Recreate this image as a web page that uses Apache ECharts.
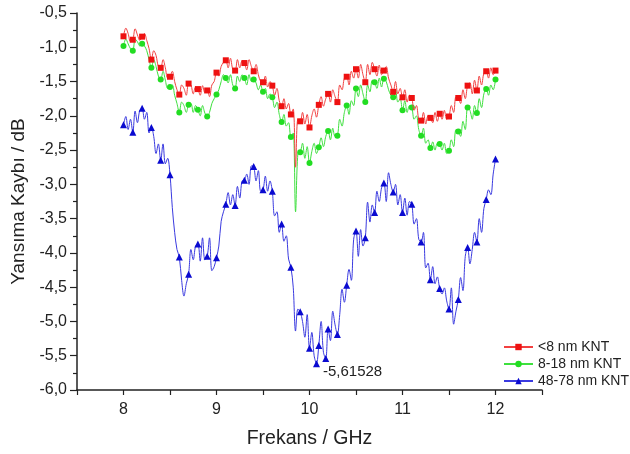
<!DOCTYPE html>
<html>
<head>
<meta charset="utf-8">
<script src="https://cdn.jsdelivr.net/npm/echarts@6/dist/echarts.min.js"></script>
<style>html,body{margin:0;padding:0;background:#fff;}#c{width:630px;height:454px;}</style>
</head>
<body>
<div id="c"></div>
<script>
// Frequency grid: 8.0 to 12.0 GHz, 0.025 GHz apart (161 samples); symbols every 0.1 GHz
const freqStart = 8.0;
const freqStep = 0.025;
const markerEvery = 4;

const seriesNames = ['<8 nm KNT', '8-18 nm KNT', '48-78 nm KNT'];

const red = [
  -0.84, -0.72, -0.80, -0.92,
  -0.89, -0.73, -0.82, -0.90,
  -0.845, -0.80, -0.90, -1.02,
  -1.18, -1.05, -1.12, -1.28,
  -1.30, -1.18, -1.30, -1.45,
  -1.43, -1.35, -1.50, -1.62,
  -1.69, -1.55, -1.60, -1.70,
  -1.53, -1.55, -1.68, -1.58,
  -1.61, -1.70, -1.56, -1.66,
  -1.63, -1.72, -1.55, -1.50,
  -1.37, -1.42, -1.28, -1.22,
  -1.19, -1.30, -1.16, -1.32,
  -1.34, -1.18, -1.30, -1.20,
  -1.23, -1.33, -1.18, -1.28,
  -1.35, -1.25, -1.40, -1.50,
  -1.51, -1.42, -1.58, -1.50,
  -1.56, -1.70, -1.60, -1.78,
  -1.86, -1.75, -1.90, -1.82,
  -1.98, -1.90, -2.75, -2.05,
  -2.08, -1.95, -2.12, -1.98,
  -2.17, -2.00, -1.90, -2.02,
  -1.84, -1.72, -1.86, -1.75,
  -1.68, -1.80, -1.62, -1.72,
  -1.80, -1.55, -1.62, -1.45,
  -1.43, -1.55, -1.35, -1.45,
  -1.32, -1.45, -1.25, -1.40,
  -1.51, -1.25, -1.40, -1.22,
  -1.32, -1.42, -1.26, -1.40,
  -1.34, -1.28, -1.45, -1.55,
  -1.65, -1.50, -1.68, -1.60,
  -1.73, -1.62, -1.80, -1.70,
  -1.74, -1.92, -1.85, -2.05,
  -2.07, -1.95, -2.12, -2.00,
  -2.03, -2.10, -1.95, -2.08,
  -1.97, -2.05, -1.92, -2.05,
  -2.01, -1.85, -1.95, -1.72,
  -1.74, -1.82, -1.62, -1.75,
  -1.56, -1.52, -1.68, -1.48,
  -1.63, -1.42, -1.55, -1.38,
  -1.35, -1.45, -1.30, -1.40,
  -1.34
];

const green = [
  -0.98, -0.88, -0.95, -1.02,
  -1.05, -0.88, -0.92, -0.98,
  -0.95, -0.98, -1.05, -1.18,
  -1.30, -1.18, -1.28, -1.42,
  -1.47, -1.35, -1.48, -1.60,
  -1.58, -1.55, -1.70, -1.82,
  -1.95, -1.80, -1.85, -1.95,
  -1.84, -1.82, -1.95, -1.85,
  -1.91, -2.00, -1.85, -1.96,
  -2.01, -1.95, -1.82, -1.75,
  -1.69, -1.62, -1.50, -1.40,
  -1.45, -1.52, -1.40, -1.55,
  -1.60, -1.42, -1.50, -1.40,
  -1.45, -1.55, -1.40, -1.50,
  -1.47, -1.52, -1.62, -1.55,
  -1.65, -1.60, -1.75, -1.68,
  -1.73, -1.88, -1.80, -1.98,
  -2.09, -1.98, -2.15, -2.10,
  -2.31, -2.25, -3.40, -2.55,
  -2.53, -2.40, -2.62, -2.45,
  -2.69, -2.52, -2.40, -2.55,
  -2.46, -2.32, -2.45, -2.30,
  -2.22, -2.35, -2.18, -2.30,
  -2.29, -2.05, -2.15, -1.95,
  -1.85, -1.98, -1.78, -1.85,
  -1.60, -1.72, -1.55, -1.68,
  -1.80, -1.55, -1.65, -1.48,
  -1.51, -1.60, -1.45, -1.58,
  -1.46, -1.50, -1.62, -1.70,
  -1.73, -1.62, -1.80, -1.75,
  -1.92, -1.78, -1.95, -1.85,
  -1.88, -2.05, -2.00, -2.20,
  -2.29, -2.18, -2.40, -2.35,
  -2.47, -2.38, -2.50, -2.40,
  -2.41, -2.50, -2.40, -2.55,
  -2.51, -2.35, -2.45, -2.20,
  -2.23, -2.30, -2.08, -2.20,
  -1.88, -1.92, -2.05, -1.85,
  -1.96, -1.75, -1.88, -1.68,
  -1.61, -1.70, -1.55, -1.62,
  -1.47
];

const blue = [
  -2.13, -2.01, -2.20, -2.05,
  -2.24, -1.93, -2.10, -1.92,
  -1.89, -2.05, -1.95, -2.25,
  -2.17, -2.30, -2.55, -2.41,
  -2.65, -2.41, -2.70, -2.62,
  -2.86, -3.34, -3.70, -3.95,
  -4.06, -4.40, -4.63, -4.45,
  -4.31, -3.95, -4.10, -3.90,
  -3.87, -4.12, -3.78, -4.10,
  -4.05, -3.78, -4.26, -4.20,
  -4.07, -3.90, -3.54, -3.40,
  -3.29, -3.12, -3.30, -3.15,
  -3.31, -3.03, -3.20, -2.95,
  -2.94, -2.85, -3.00, -2.73,
  -2.74, -2.95, -2.80, -3.10,
  -3.08, -2.88, -3.10, -2.95,
  -3.10, -3.46, -3.40, -3.70,
  -3.58, -3.83, -3.75, -4.09,
  -4.21, -4.50, -5.14, -4.82,
  -4.86, -5.00, -5.23, -4.90,
  -5.39, -5.16, -5.50, -5.61528,
  -5.35, -5.00, -5.45, -5.54,
  -5.11, -5.28, -4.85, -5.05,
  -5.19, -4.90, -4.53, -4.72,
  -4.47, -4.24, -4.40, -3.80,
  -3.68, -4.05, -3.66, -3.90,
  -3.78, -3.26, -3.55, -3.30,
  -3.41, -3.10, -3.25, -3.05,
  -2.98, -3.25, -2.83, -3.00,
  -3.11, -3.00, -3.30, -3.15,
  -3.41, -3.20, -3.45, -3.25,
  -3.29, -3.58, -3.50, -3.80,
  -3.84, -3.70, -4.22, -4.15,
  -4.39, -4.20, -4.45, -4.35,
  -4.52, -4.60, -4.51, -4.70,
  -4.82, -4.51, -5.04, -4.85,
  -4.68, -4.36, -4.55, -4.05,
  -3.92, -4.16, -3.95, -3.70,
  -3.84, -3.50, -3.70, -3.35,
  -3.22, -3.08, -3.15, -2.85,
  -2.63
];

// extra symbols drawn on the 48-78 nm curve (GHz)
const blueExtraMarkers = [10.075, 10.175];
// annotated minimum
const minLabelFreq = 10.075;
const minLabelText = '-5,61528';

const xTicks = [8, 9, 10, 11, 12];

function fmtComma(v, d) { return v.toFixed(d).replace('.', ','); }

function buildData(values, extra, labelAt) {
  return values.map(function (y, i) {
    const x = +(freqStart + i * freqStep).toFixed(3);
    const isMarker = (i % markerEvery === 0) || (extra && extra.some(function (e) { return Math.abs(e - x) < 1e-6; }));
    const item = { value: [x, y] };
    if (!isMarker) item.symbol = 'none';
    if (labelAt != null && Math.abs(labelAt - x) < 1e-6) {
      item.label = {
        show: true, position: 'right', formatter: minLabelText,
        color: '#222', fontSize: 15, fontFamily: 'Liberation Sans, Arial, sans-serif',
        offset: [-2, 8]
      };
    }
    return item;
  });
}

const chart = echarts.init(document.getElementById('c'), null, { renderer: 'canvas' });
const fontFam = 'Liberation Sans, Arial, sans-serif';

chart.setOption({
  animation: false,
  backgroundColor: '#ffffff',
  grid: { left: 77, right: 88, top: 13, bottom: 63, containLabel: false },
  legend: {
    orient: 'vertical',
    left: 503, top: 340, padding: 0,
    itemWidth: 29, itemHeight: 8, itemGap: 3,
    textStyle: { fontSize: 14, color: '#222', fontFamily: fontFam },
    data: seriesNames
  },
  xAxis: {
    type: 'value', min: 7.5, max: 12.5, interval: 0.5,
    name: 'Frekans / GHz', nameLocation: 'middle', nameGap: 39,
    nameTextStyle: { fontSize: 19.5, color: '#222', fontFamily: fontFam },
    axisLine: { show: true, onZero: false, lineStyle: { color: '#222', width: 1.5 } },
    axisTick: { show: true, inside: false, length: 5, lineStyle: { color: '#222', width: 1.2 } },
    axisLabel: {
      fontSize: 16, color: '#222', fontFamily: fontFam, margin: 12,
      formatter: function (v) { return xTicks.indexOf(v) >= 0 ? String(v) : ''; }
    },
    splitLine: { show: false }
  },
  yAxis: {
    type: 'value', min: -6, max: -0.5, interval: 0.5,
    name: 'Yansıma Kaybı / dB', nameLocation: 'middle', nameGap: 42, nameRotate: 90,
    nameTextStyle: { fontSize: 19, color: '#222', fontFamily: fontFam },
    axisLine: { show: true, onZero: false, lineStyle: { color: '#222', width: 1.5 } },
    axisTick: { show: true, inside: false, length: 7, lineStyle: { color: '#222', width: 1.2 } },
    minorTick: { show: true, splitNumber: 2, length: 4, lineStyle: { color: '#222', width: 1.2 } },
    axisLabel: {
      fontSize: 16, color: '#222', fontFamily: fontFam, margin: 10,
      formatter: function (v) { return fmtComma(v, 1); }
    },
    splitLine: { show: false }
  },
  series: [
    {
      name: seriesNames[0], type: 'line', data: buildData(red, null, null),
      smooth: 0.35, symbol: 'rect', symbolSize: 6, showSymbol: true,
      lineStyle: { color: '#f24040', width: 1 },
      itemStyle: { color: '#ee1111' },
      emphasis: { disabled: true }, z: 3
    },
    {
      name: seriesNames[1], type: 'line', data: buildData(green, null, null),
      smooth: 0.35, symbol: 'circle', symbolSize: 6, showSymbol: true,
      lineStyle: { color: '#3ee03e', width: 1 },
      itemStyle: { color: '#22dd22' },
      emphasis: { disabled: true }, z: 2
    },
    {
      name: seriesNames[2], type: 'line', data: buildData(blue, blueExtraMarkers, minLabelFreq),
      smooth: 0.35, symbol: 'triangle', symbolSize: 7, showSymbol: true,
      lineStyle: { color: '#3a3ae0', width: 1 },
      itemStyle: { color: '#0a0ad0' },
      emphasis: { disabled: true }, z: 4
    }
  ]
});
</script>
</body>
</html>
